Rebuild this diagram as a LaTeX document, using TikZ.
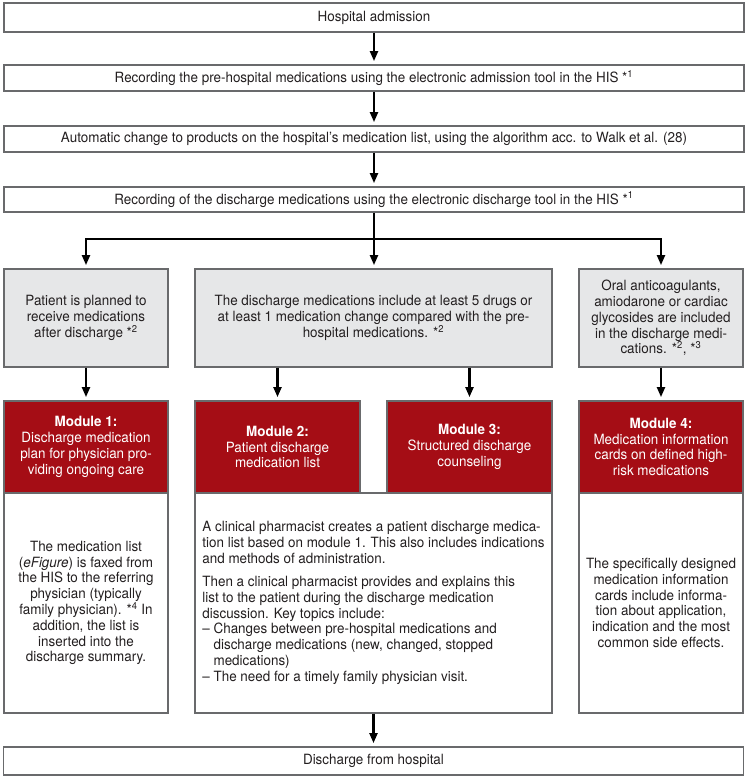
\documentclass[tikz,border=0pt]{standalone}
\usepackage{fontspec}
\setmainfont[FakeStretch=0.95]{TeX Gyre Heros}
\usetikzlibrary{arrows.meta}

\definecolor{modred}{RGB}{165,13,21}
\definecolor{condgrey}{RGB}{230,231,232}
\definecolor{framegrey}{RGB}{105,106,108}
\definecolor{inkblack}{RGB}{35,31,32}

\tikzset{every picture/.style={line width=0.75pt}}

\begin{document}
\begin{tikzpicture}[x=0.75pt,y=0.75pt,yscale=-1,xscale=1,
  font=\fontsize{10.6pt}{11.85pt}\selectfont,
  stepbox/.style={draw=framegrey,line width=0.9pt,fill=white,text=inkblack,
    minimum width=555pt,inner sep=0pt,align=center},
  condbox/.style={draw=framegrey,line width=0.9pt,fill=condgrey,text=inkblack,
    minimum height=73.5pt,inner sep=0pt,align=center},
  modbox/.style={draw=framegrey,line width=0.9pt,fill=modred,text=white,
    minimum height=69pt,inner sep=0pt,align=center},
  infobox/.style={draw=framegrey,line width=0.9pt,fill=white,text=inkblack,
    minimum height=165pt,inner sep=0pt,align=center},
  flow/.style={draw=black,line width=1.6pt},
  flowarr/.style={flow,-{Triangle[length=7.5pt,width=6pt]},shorten >=2.5pt}]
	\useasboundingbox (0,0) rectangle (749,779);

	%Shape: Rectangle [steps]
	\node [stepbox,minimum height=21.75pt] (adm) at (374,17.5) {Hospital admission};
	\node [stepbox,minimum height=19.5pt] (recpre) at (374,78) {Recording the pre-hospital medications using the electronic admission tool in the HIS *\textsuperscript{1}};
	\node [stepbox,minimum height=19.5pt] (autochg) at (374,139) {Automatic change to products on the hospital’s medication list, using the algorithm acc. to Walk et al. (28)};
	\node [stepbox,minimum height=18.75pt] (recdis) at (374,199.5) {Recording of the discharge medications using the electronic discharge tool in the HIS *\textsuperscript{1}};
	\coordinate (branch) at (374,239);

	%Shape: Rectangle [conditions]
	\node [condbox,minimum width=123pt] (condone) at (86,318) {Patient is planned to\\receive medications\\after discharge *\textsuperscript{2}};
	\node [condbox,minimum width=267.75pt] (condtwo) at (373.5,318) {The discharge medications include at least 5 drugs or\\at least 1 medication change compared with the pre-\\hospital medications. *\textsuperscript{2}};
	\node [condbox,minimum width=123pt] (condthree) at (661,318) {Oral anticoagulants,\\amiodarone or cardiac\\glycosides are included\\in the discharge medi-\\cations. *\textsuperscript{2}, *\textsuperscript{3}};

	%Shape: Rectangle [descriptions]
	\node [infobox,minimum width=123pt] (infoone) at (86,603) {The medication list\\(\textit{eFigure}) is faxed from\\the HIS to the referring\\physician (typically\\family physician). *\textsuperscript{4} In\\addition, the list is\\inserted into the\\discharge summary.};
	\node [infobox,minimum width=267.75pt,align=left] (infotwo) at (373.5,603) {A clinical pharmacist creates a patient discharge medica-\\tion list based on module 1. This also includes indications\\and methods of administration.\\[5.5pt]
Then a clinical pharmacist provides and explains this\\list to the patient during the discharge medication\\discussion. Key topics include:\\
– Changes between pre-hospital medications and\\\phantom{– }discharge medications (new, changed, stopped\\\phantom{– }medications)\\
– The need for a timely family physician visit.};
	\node [infobox,minimum width=123pt] (infothree) at (661,603) {The specifically designed\\medication information\\cards include informa-\\tion about application,\\indication and the most\\common side effects.};

	%Shape: Rectangle [modules]
	\node [modbox,minimum width=123pt] (modone) at (86,447) {\textbf{Module 1:}\\Discharge medication\\plan for physician pro-\\viding ongoing care};
	\node [modbox,minimum width=123.75pt] (modtwo) at (277.5,447) {\textbf{Module 2:}\\Patient discharge\\medication list};
	\node [modbox,minimum width=123.75pt] (modthree) at (469.5,447) {\textbf{Module 3:}\\Structured discharge\\counseling};
	\node [modbox,minimum width=123pt] (modfour) at (661,447) {\textbf{Module 4:}\\Medication information\\cards on defined high-\\risk medications};

	\node [stepbox,minimum height=21pt] (dis) at (373.5,761) {Discharge from hospital};

	%Straight Lines
	\draw [flowarr] (adm) -- (recpre);
	\draw [flowarr] (recpre) -- (autochg);
	\draw [flowarr] (autochg) -- (recdis);
	\draw [flow] (recdis) -- (branch);
	\draw [flowarr] (branch) -| (condone);
	\draw [flowarr] (branch) -- (condtwo.north -| branch);
	\draw [flowarr] (branch) -| (condthree);
	\draw [flowarr] (condone) -- (modone);
	\draw [flowarr] (condtwo.south -| modtwo) -- (modtwo);
	\draw [flowarr] (condtwo.south -| modthree) -- (modthree);
	\draw [flowarr] (condthree) -- (modfour);
	\draw [flowarr] (infotwo) -- (dis);

\end{tikzpicture}
\end{document}
